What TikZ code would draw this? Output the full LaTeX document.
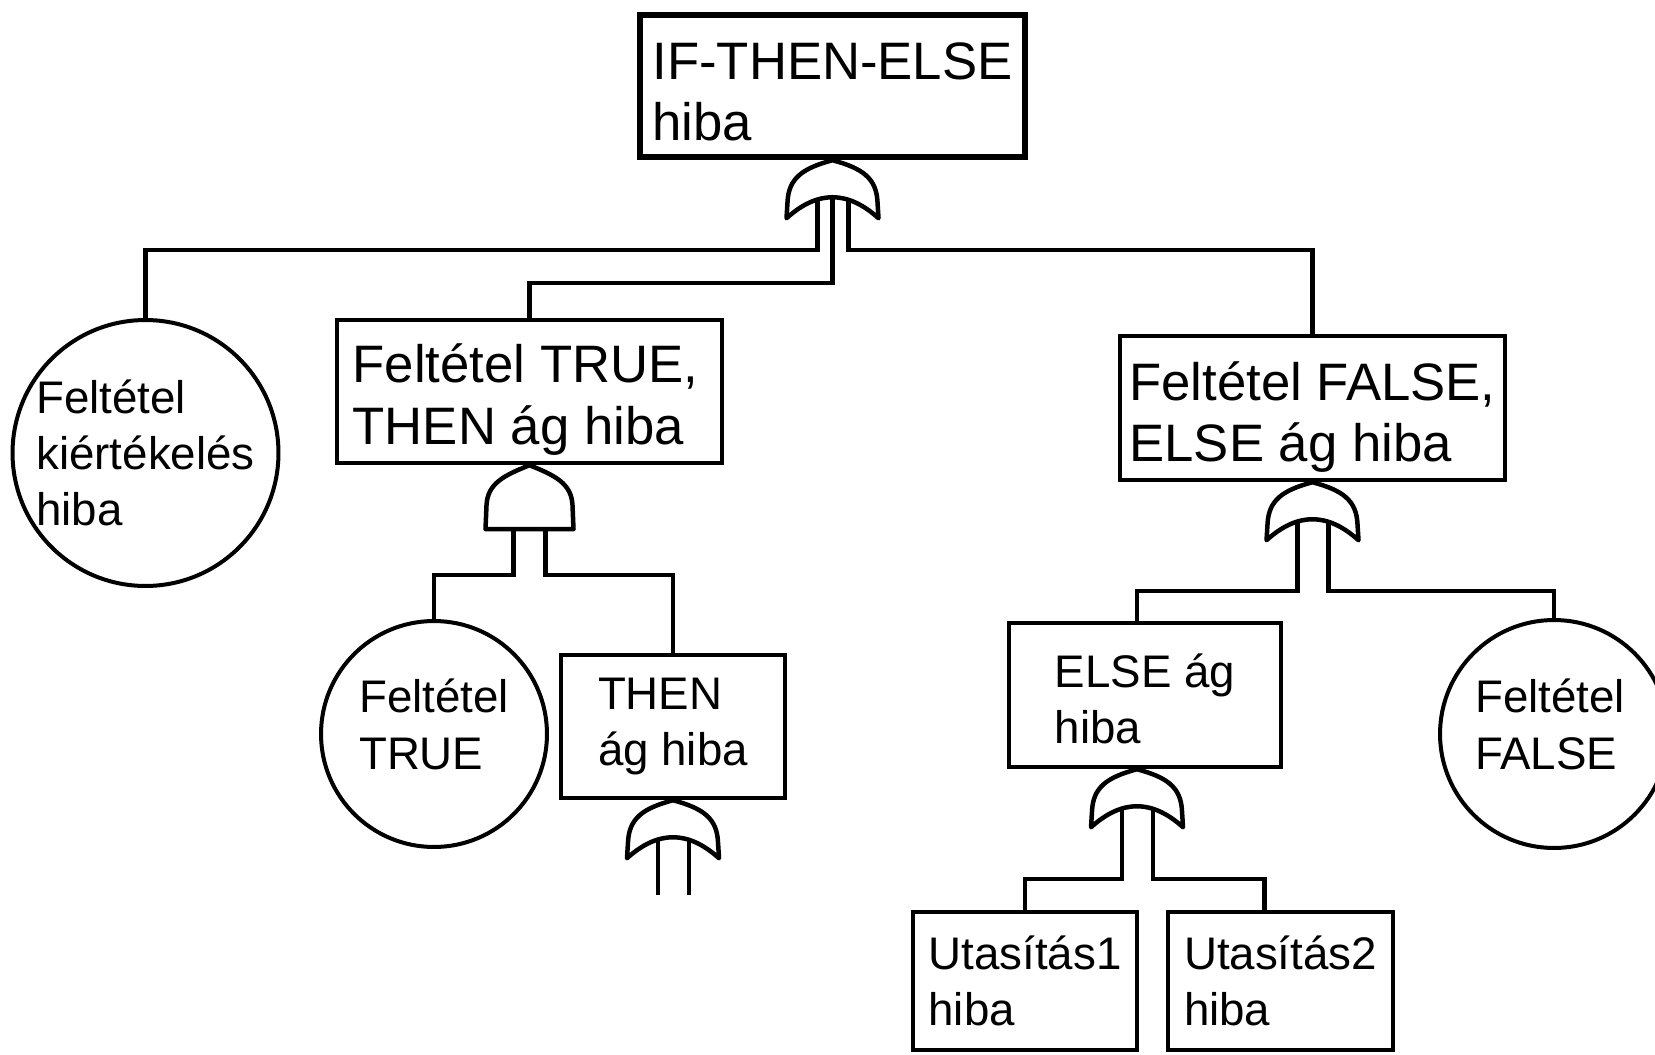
\documentclass[tikz,border=0pt]{standalone}
\usepackage{fontspec}
\setmainfont{Liberation Sans}
\begin{document}
\begin{tikzpicture}[x=0.02cm,y=-0.02cm,
 big/.style={font=\fontsize{30}{35}\selectfont,align=left},
 small/.style={font=\fontsize{26}{32}\selectfont,align=left},
 event/.style={draw,line width=0.09cm,rectangle,inner sep=0pt},
 basic/.style={draw,line width=0.08cm,circle,inner sep=0pt},
 wire/.style={line width=0.09cm},
 pics/orgate/.style={code={
  \draw[wire,line join=round] (0,0) .. controls (-30,8) and (-44,18) .. (-45,42) -- (-46,58)
   .. controls (-15,30) and (15,30) .. (46,58) -- (45,42) .. controls (44,18) and (30,8) .. (0,0) -- cycle;
  \coordinate (-l) at (-15,39);
  \coordinate (-m) at (0,37);
  \coordinate (-r) at (16,39);
 }},
 pics/andgate/.style={code={
  \draw[wire,line join=round] (0,0) .. controls (-25,10) and (-42,18) .. (-43,40) -- (-44,64)
   -- (44,64) -- (43,40) .. controls (42,18) and (25,10) .. (0,0) -- cycle;
  \coordinate (-l) at (-16,64);
  \coordinate (-r) at (16,64);
 }}]
 \useasboundingbox (0,0) rectangle (1655,1054);
 \node[event,line width=0.13cm,minimum width=7.7cm,minimum height=2.84cm] (ite) at (832.5,86) {};
 \node[big] (itetext) at ([yshift=-0.12cm]ite.center) {IF-THEN-ELSE\\hiba};
 \node[event,minimum width=7.7cm,minimum height=2.86cm] (truehiba) at (529.5,391.5) {};
 \node[big] (truehibatext) at ([xshift=-0.08cm,yshift=-0.16cm]truehiba.center) {Feltétel TRUE,\\THEN ág hiba};
 \node[event,minimum width=7.7cm,minimum height=2.88cm] (falsehiba) at (1312.5,408) {};
 \node[big] (falsehibatext) at ([yshift=-0.18cm]falsehiba.center) {Feltétel FALSE,\\ELSE ág hiba};
 \node[event,small,minimum width=4.48cm,minimum height=2.86cm] (thenag) at (673,726.5) {THEN\\ág hiba};
 \node[event,small,minimum width=5.44cm,minimum height=2.88cm] (elseag) at (1145,695) {};
 \node[small] (elseagtext) at ([yshift=-0.08cm]elseag.center) {ELSE ág\\hiba};
 \node[event,small,minimum width=4.48cm,minimum height=2.76cm] (utas1) at (1025,981) {Utasítás1\\hiba};
 \node[event,small,minimum width=4.5cm,minimum height=2.76cm] (utas2) at (1280.5,981) {Utasítás2\\hiba};
 \node[basic,minimum size=5.32cm] (kiert) at (145.5,453) {};
 \node[small] (kierttext) at (kiert) {Feltétel\\kiértékelés\\hiba};
 \node[basic,minimum size=4.52cm] (feltrue) at (434,734) {};
 \node[small] (feltruetext) at ([yshift=0.19cm]feltrue.center) {Feltétel\\TRUE};
 \node[basic,minimum size=4.56cm] (feltfalse) at (1554,734) {};
 \node[small] (feltfalsetext) at ([xshift=-0.08cm,yshift=0.19cm]feltfalse.center) {Feltétel\\FALSE};
 \coordinate (tovabb) at (0,895);
 \pic (g0) at (ite.south) {orgate};
 \draw[wire] (g0-l) -- (g0-l |- 0,250) -| (kiert);
 \draw[wire] (g0-m) -- (g0-m |- 0,283) -| (truehiba);
 \draw[wire] (g0-r) -- (g0-r |- 0,250) -| (falsehiba);
 \pic (g1) at (truehiba.south) {andgate};
 \draw[wire] (g1-l) -- (g1-l |- 0,575) -| (feltrue);
 \draw[wire] (g1-r) -- (g1-r |- 0,575) -| (thenag);
 \pic (g2) at (thenag.south) {orgate};
 \draw[wire] (g2-l) -- (g2-l |- tovabb);
 \draw[wire] (g2-r) -- (g2-r |- tovabb);
 \pic (g3) at (falsehiba.south) {orgate};
 \draw[wire] (g3-l) -- (g3-l |- 0,591) -| ([xshift=-0.16cm]elseag.north);
 \draw[wire] (g3-r) -- (g3-r |- 0,591) -| (feltfalse);
 \pic (g4) at ([xshift=-0.16cm]elseag.south) {orgate};
 \draw[wire] (g4-l) -- (g4-l |- 0,879) -| (utas1);
 \draw[wire] (g4-r) -- (g4-r |- 0,879) -| ([xshift=-0.32cm]utas2.north);
\end{tikzpicture}
\end{document}
